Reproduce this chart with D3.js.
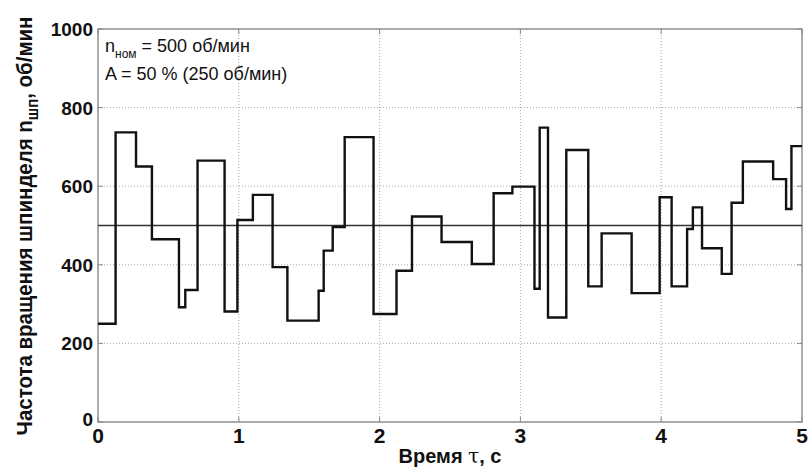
<!DOCTYPE html>
<html lang="ru">
<head>
<meta charset="UTF-8">
<title>Частота вращения шпинделя</title>
<style>
  body, html { margin: 0; padding: 0; background: #fff; overflow: hidden; }
  svg { display: block; }
</style>
</head>
<body>
<script src="https://d3js.org/d3.v7.min.js"></script>
<script>
// step start times, s
var stepTimes = [0, 0.125, 0.27, 0.383, 0.575, 0.62, 0.707, 0.899, 0.99, 1.10,
  1.24, 1.345, 1.567, 1.603, 1.667, 1.752, 1.957, 2.12, 2.23, 2.44,
  2.655, 2.81, 2.943, 3.10, 3.137, 3.196, 3.326, 3.482, 3.577, 3.79,
  3.989, 4.074, 4.184, 4.225, 4.29, 4.43, 4.50, 4.58, 4.795, 4.887, 4.925];
// spindle speed on each step, rpm
var speeds = [250, 737, 650, 465, 292, 336, 665, 281, 514, 578,
  394, 258, 334, 436, 496, 725, 275, 385, 523, 458,
  402, 582, 599, 339, 749, 266, 692, 345, 480, 328,
  572, 345, 491, 546, 442, 377, 558, 663, 618, 542, 702];
var endTime = 5;
var nominal = 500;
var xTicks = [0, 1, 2, 3, 4, 5];
var yTicks = [0, 200, 400, 600, 800, 1000];

var W = 810, H = 470;
var pl = 98, pr = 802, pt = 29, pb = 422;

var svg = d3.select("body").append("svg")
  .attr("width", W).attr("height", H);

var x = d3.scaleLinear().domain([0, 5]).range([pl, pr]);
var y = d3.scaleLinear().domain([0, 1000]).range([pb, pt]);

var font = "'Liberation Sans', Arial, sans-serif";

// grid
svg.append("g").selectAll("line").data(xTicks.slice(1, -1)).enter().append("line")
  .attr("x1", d => x(d)).attr("x2", d => x(d))
  .attr("y1", pt).attr("y2", pb)
  .attr("stroke", "#aaa").attr("stroke-width", 1).attr("stroke-dasharray", "1,2");
svg.append("g").selectAll("line").data(yTicks.slice(1, -1)).enter().append("line")
  .attr("x1", pl).attr("x2", pr)
  .attr("y1", d => y(d)).attr("y2", d => y(d))
  .attr("stroke", "#aaa").attr("stroke-width", 1).attr("stroke-dasharray", "1,2");

// box
svg.append("rect")
  .attr("x", pl).attr("y", pt)
  .attr("width", pr - pl).attr("height", pb - pt)
  .attr("fill", "none").attr("stroke", "#888").attr("stroke-width", 1.4);

// inward ticks on all sides
var tl = 5;
xTicks.forEach(function(t) {
  svg.append("line").attr("x1", x(t)).attr("x2", x(t)).attr("y1", pb).attr("y2", pb - tl).attr("stroke", "#888");
  svg.append("line").attr("x1", x(t)).attr("x2", x(t)).attr("y1", pt).attr("y2", pt + tl).attr("stroke", "#888");
});
yTicks.forEach(function(v) {
  svg.append("line").attr("x1", pl).attr("x2", pl + tl).attr("y1", y(v)).attr("y2", y(v)).attr("stroke", "#888");
  svg.append("line").attr("x1", pr).attr("x2", pr - tl).attr("y1", y(v)).attr("y2", y(v)).attr("stroke", "#888");
});

// tick labels
svg.append("g").selectAll("text").data(xTicks).enter().append("text")
  .attr("x", d => x(d)).attr("y", pb + 21)
  .attr("text-anchor", "middle")
  .attr("font-family", font).attr("font-size", 21).attr("font-weight", "bold")
  .attr("fill", "#111")
  .text(d => d);
svg.append("g").selectAll("text").data(yTicks).enter().append("text")
  .attr("x", pl - 5).attr("y", d => y(d) + (d === 0 ? 4 : 7))
  .attr("text-anchor", "end")
  .attr("font-family", font).attr("font-size", 19).attr("font-weight", "bold")
  .attr("fill", "#111")
  .text(d => d);

// axis titles
var xl = svg.append("text")
  .attr("x", 450).attr("y", 463)
  .attr("text-anchor", "middle")
  .attr("font-family", font).attr("font-size", 20).attr("font-weight", "bold")
  .attr("fill", "#111");
xl.append("tspan").text("Время ");
xl.append("tspan").attr("font-family", "'DejaVu Serif', serif").attr("font-weight", "normal").text("τ");
xl.append("tspan").text(", с");

var yl = svg.append("text")
  .attr("transform", "translate(32,226) rotate(-90) scale(0.93,1)")
  .attr("text-anchor", "middle")
  .attr("font-family", font).attr("font-size", 22).attr("font-weight", "bold")
  .attr("fill", "#111");
yl.append("tspan").text("Частота вращения шпинделя n");
yl.append("tspan").attr("font-size", 16).attr("dy", 6).text("шп");
yl.append("tspan").attr("dy", -6).text(", об/мин");

// nominal speed line
svg.append("line")
  .attr("x1", pl).attr("x2", pr)
  .attr("y1", y(nominal)).attr("y2", y(nominal))
  .attr("stroke", "#333").attr("stroke-width", 1.6);

// step signal
var pts = stepTimes.map((t, i) => [t, speeds[i]]);
pts.push([endTime, speeds[speeds.length - 1]]);
var line = d3.line().x(d => x(d[0])).y(d => y(d[1])).curve(d3.curveStepAfter);
svg.append("path")
  .attr("d", line(pts))
  .attr("fill", "none").attr("stroke", "#111").attr("stroke-width", 2.4)
  .attr("stroke-linejoin", "miter");

// annotation
var a1 = svg.append("text")
  .attr("x", pl + 7).attr("y", 52)
  .attr("font-family", font).attr("font-size", 18)
  .attr("fill", "#111");
a1.append("tspan").text("n");
a1.append("tspan").attr("font-size", 12).attr("dy", 6).text("ном");
a1.append("tspan").attr("dy", -6).text(" = 500 об/мин");
svg.append("text")
  .attr("x", pl + 7).attr("y", 80)
  .attr("font-family", font).attr("font-size", 18)
  .attr("fill", "#111")
  .text("A = 50 % (250 об/мин)");
</script>
</body>
</html>
